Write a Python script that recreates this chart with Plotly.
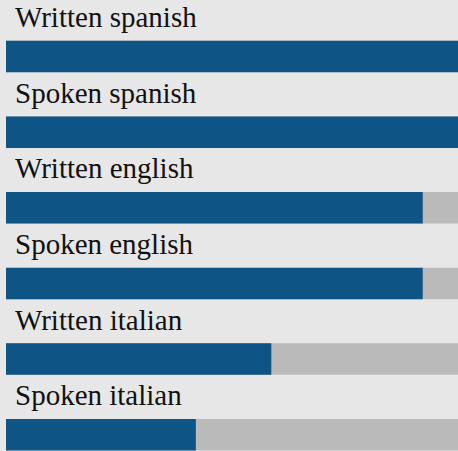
import plotly.graph_objects as go

categories = ["Written spanish", "Spoken spanish", "Written english",
              "Spoken english", "Written italian", "Spoken italian"]
values = [100, 100, 92.2, 92.2, 58.7, 42.0]
track_max = [100, 100, 100, 100, 100, 100]

BG = "#e7e7e7"
BLUE = "#0e5586"
GRAY = "#bababa"

fig = go.Figure()
fig.add_trace(go.Bar(y=categories, x=track_max, orientation="h",
                     marker=dict(color=GRAY, line=dict(width=0)),
                     width=0.416, hoverinfo="skip"))
fig.add_trace(go.Bar(y=categories, x=values, orientation="h",
                     marker=dict(color=BLUE, line=dict(width=0)),
                     width=0.416, hoverinfo="skip"))

for c in categories:
    fig.add_annotation(x=0, y=c, xref="x", yref="y", text=c,
                       showarrow=False, xanchor="left", yanchor="middle",
                       xshift=7, yshift=39.5,
                       font=dict(family="Liberation Serif", size=29, color="#111111"))

fig.update_layout(
    width=458, height=451,
    margin=dict(l=6, r=0, t=0, b=0),
    paper_bgcolor=BG, plot_bgcolor=BG,
    barmode="overlay", showlegend=False,
    xaxis=dict(range=[0, 100], visible=False, fixedrange=True),
    yaxis=dict(categoryorder="array", categoryarray=categories,
               range=[5.215, -0.747], visible=False, fixedrange=True),
)
fig.write_html("out.html", config={"displayModeBar": False},
               post_script="document.body.style.margin='0';document.body.style.padding='0';"
                           "document.body.style.overflow='hidden';"
                           "document.body.style.background='#e7e7e7';")
